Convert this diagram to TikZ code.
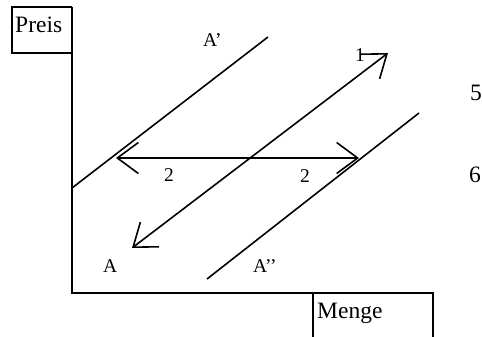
\documentclass[tikz,border=0pt]{standalone}
\usepackage{fontspec}
\setmainfont{Liberation Serif}
\usetikzlibrary{arrows.meta}
\begin{document}
\begin{tikzpicture}[x=1pt,y=-1pt,
  ln/.style={line width=1.6pt},
  barb/.style={ln,{Straight Barb[length=21pt,width=31pt,line width=1.6pt]}-{Straight Barb[length=21pt,width=31pt,line width=1.6pt]}},
  big/.style={font=\fontsize{23.5}{26}\selectfont,inner sep=0pt,anchor=base west},
  lbl/.style={font=\fontsize{19.5}{22}\selectfont,inner sep=0pt,anchor=base west}]
\useasboundingbox (0,0) rectangle (482,337);
% coordinates
\coordinate (pbl) at (12,53);
\coordinate (ptl) at (12,7);
\coordinate (top) at (72,7);
\coordinate (org) at (72,293);
\coordinate (xend) at (433,293);
\coordinate (mL) at (313,293);
\coordinate (mLb) at (313,337);
\coordinate (mRb) at (433,337);
\coordinate (a1s) at (72,188);
\coordinate (a1e) at (268,37);
\coordinate (a2s) at (207,279);
\coordinate (a2e) at (419,113);
\coordinate (as) at (132,248);
\coordinate (ae) at (388,53);
\coordinate (hs) at (116,158);
\coordinate (he) at (359,158);
% boxes and axes
\draw[ln] (top) -- (ptl) -- (pbl) -- (72,53);
\draw[ln] (top) -- (org) -- (xend) -- (mRb);
\draw[ln] (mL) -- (mLb);
% supply lines
\draw[ln] (a1s) -- (a1e);
\draw[ln] (a2s) -- (a2e);
% arrows
\draw[barb] (as) -- (ae);
\draw[barb] (hs) -- (he);
% texts
\node[big] (preis) at (15,33) {Preis};
\node[big] (menge) at (317,318) {Menge};
\node[big] (five) at (470,100) {5};
\node[big] (six) at (469,182) {6};
\node[lbl] (la1) at (203,47) {A’};
\node[lbl] (la) at (103,272) {A};
\node[lbl] (la2) at (253,272) {A’’};
\node[lbl] (two1) at (164,181) {2};
\node[lbl] (two2) at (300,182) {2};
\node[lbl] (one) at (355,62) {1};
\end{tikzpicture}
\end{document}
